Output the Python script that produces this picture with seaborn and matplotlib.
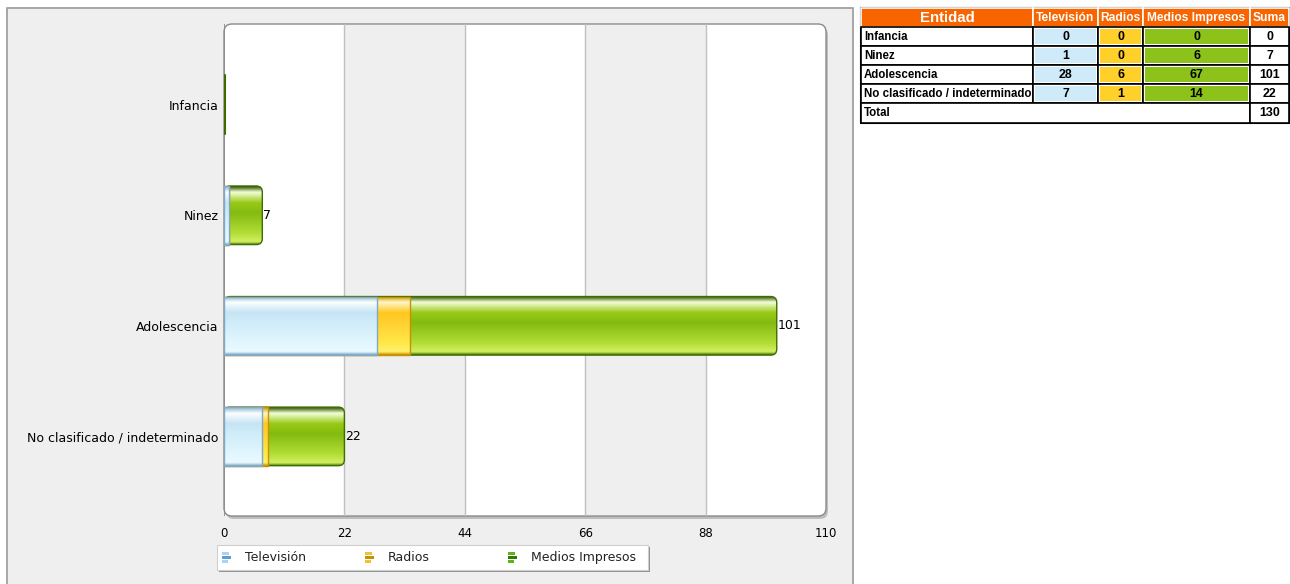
import numpy as np
import pandas as pd
import matplotlib
matplotlib.use("Agg")
import matplotlib.pyplot as plt
import seaborn as sns
from matplotlib.patches import Rectangle, FancyBboxPatch
from matplotlib.colors import LinearSegmentedColormap
from matplotlib.transforms import IdentityTransform
from matplotlib import font_manager

# ---------------- data ----------------
categories = ["Infancia", "Ninez", "Adolescencia", "No clasificado / indeterminado"]
series_names = ["Televisión", "Radios", "Medios Impresos"]
television = [0, 1, 28, 7]
radios = [0, 0, 6, 1]
medios = [0, 6, 67, 14]
x_ticks = [0, 22, 44, 66, 88, 110]
table_header = ["Entidad", "Televisión", "Radios", "Medios Impresos", "Suma"]

sumas = [t + r + m for t, r, m in zip(television, radios, medios)]
total = sum(sumas)

W, H = 1290, 584
sns.set_theme(style="white")
plt.rcParams['font.family'] = ['DejaVu Sans']
fig = plt.figure(figsize=(W / 100, H / 100), dpi=100)
fig.patch.set_facecolor("white")

installed = {f.name for f in font_manager.fontManager.ttflist}
if "Liberation Sans Narrow" in installed:
    tfont = ['Liberation Sans Narrow', 'DejaVu Sans']
    tscale = 1.0
else:
    tfont = ['Liberation Sans', 'DejaVu Sans']
    tscale = 0.9

def fx(px):
    return px / W

def fy(py):
    return 1 - py / H

# left panel background
panel = fig.add_axes([0, 0, 1, 1], zorder=-10)
panel.set_xlim(0, W); panel.set_ylim(H, 0); panel.axis("off")
panel.add_patch(Rectangle((7, 8), 846, 580, facecolor="#efefef", edgecolor="#9a9a9a", lw=1.2))
panel.add_patch(FancyBboxPatch((226, 27), 602, 492, boxstyle="round,pad=0,rounding_size=8",
                               facecolor="#9c9c9c", edgecolor="none", alpha=0.6))
panel.add_patch(FancyBboxPatch((224, 24), 602, 492, boxstyle="round,pad=0,rounding_size=8",
                               facecolor="white", edgecolor="#8a8a8a", lw=1.0))
x_px = lambda v: 224 + v * (602 / 110)
for i, (a, b) in enumerate(zip(x_ticks[:-1], x_ticks[1:])):
    if i % 2 == 1:
        panel.add_patch(Rectangle((x_px(a), 25), x_px(b) - x_px(a), 490,
                                  facecolor="#efefef", edgecolor="none"))

# ---------------- chart ----------------
ax = fig.add_axes([fx(224), fy(516), fx(826) - fx(224), fy(24) - fy(516)])
ax.patch.set_alpha(0)

df = pd.DataFrame({"cat": categories, "tv": television, "ra": radios, "me": medios})
df["c_tv"] = df["tv"]
df["c_ra"] = df["tv"] + df["ra"]
df["c_me"] = df["tv"] + df["ra"] + df["me"]

for t in x_ticks[1:-1]:
    ax.axvline(t, color="#c0c0c0", lw=1, zorder=0.5)
ax.axvline(0, color="#8a8a8a", lw=1.2, zorder=0.6)

bar_w = 0.53
layers = [
    ("c_me", "#8cc21a", "#3f6e00", ["#2f5500", "#f4ffd8", "#98c916", "#84bb10", "#b2dd36", "#d2f062", "#4c7a00"]),
    ("c_ra", "#ffd02a", "#c99000", ["#d09a00", "#fff6c8", "#ffc820", "#ffd030", "#ffe848", "#fff070", "#c99000"]),
    ("c_tv", "#d8f0fb", "#7fa9c4", ["#8bb5cf", "#fbfeff", "#c6e4f4", "#d0ecf9", "#e2f7ff", "#eafaff", "#7fa9c4"]),
]

def set_limits():
    ax.set_xlim(0, 110)
    ax.set_ylim(3.72, -0.73)

for k, (col, face, edge, grad) in enumerate(layers):
    n0 = len(ax.patches)
    sns.barplot(data=df, x=col, y="cat", orient="h", color=face, width=bar_w,
                saturation=1, edgecolor=edge, linewidth=1.0, ax=ax, zorder=2 + k, errorbar=None)
    set_limits()
    cmap = LinearSegmentedColormap.from_list(
        col, list(zip([0, 0.1, 0.28, 0.45, 0.8, 0.95, 1.0], grad)))
    for p in list(ax.patches[n0:]):
        x0, y0 = p.get_x(), p.get_y()
        w, h = p.get_width(), p.get_height()
        if w <= 0:
            continue
        clip = p
        if k == 0:
            (dx0, dy0), (dx1, dy1) = ax.transData.transform([(x0, y0 + h), (x0 + w, y0)])
            rb = FancyBboxPatch((dx0, dy0), dx1 - dx0, dy1 - dy0,
                                boxstyle="round,pad=0,rounding_size=6",
                                transform=IdentityTransform(), facecolor="none",
                                edgecolor=edge, lw=1.0, zorder=2.2)
            ax.add_artist(rb)
            p.set_visible(False)
            clip = rb
        grad_img = np.linspace(0, 1, 100).reshape(-1, 1)
        im = ax.imshow(grad_img, cmap=cmap, aspect="auto", extent=(x0, x0 + w, y0 + h, y0),
                       zorder=2 + k + 0.1, interpolation="bilinear")
        im.set_clip_path(clip)
        p.set_facecolor("none")
        p.set_zorder(2 + k + 0.2)
    set_limits()

for i, s in enumerate(sumas):
    if s == 0:
        ax.plot([0.15, 0.15], [i - bar_w / 2, i + bar_w / 2], color="#3d6b00", lw=1.5, zorder=6)

for i, s in enumerate(sumas):
    if s > 0:
        ax.text(s + 0.2, i, str(s), va="center", ha="left", fontsize=9, color="black", zorder=8)

set_limits()
ax.set_xticks(x_ticks)
ax.set_xticklabels([str(t) for t in x_ticks], fontsize=8.5, color="black")
ax.tick_params(axis="x", length=0, pad=8)
ax.tick_params(axis="y", length=0, pad=4, labelsize=9, labelcolor="black")
ax.set_xlabel(""); ax.set_ylabel("")
for s in ax.spines.values():
    s.set_visible(False)

# legend
panel.add_patch(Rectangle((219, 547), 431, 25, facecolor="#6a6a6a", edgecolor="none", alpha=0.7))
panel.add_patch(Rectangle((217, 545), 431, 25, facecolor="white", edgecolor="#cfcfcf", lw=0.8))
leg_cols = [("#5c9ed6", "#a9d3f2"), ("#c99000", "#f1c236"), ("#2f7d00", "#62b01e")]
leg_x = [222, 365, 508]
for (dark, light), lx, name in zip(leg_cols, leg_x, series_names):
    panel.add_patch(Rectangle((lx, 552), 7, 2.5, facecolor=light, edgecolor="none"))
    panel.add_patch(Rectangle((lx, 556), 9, 2.5, facecolor=dark, edgecolor="none"))
    panel.add_patch(Rectangle((lx, 560), 6, 2.5, facecolor=light, edgecolor="none"))
    panel.text(lx + 23, 557.5, name, fontsize=9, va="center", ha="left", color="#222222")

# ---------------- table ----------------
col_edges = [861, 1033, 1098, 1143, 1250, 1289]
row_edges = [8, 27, 46, 65, 84, 103, 123]
panel.add_patch(Rectangle((861, 8), 428, 115, facecolor="white", edgecolor="black", lw=1.5))
for j, name in enumerate(table_header):
    x0, x1 = col_edges[j], col_edges[j + 1]
    panel.add_patch(Rectangle((x0, row_edges[0]), x1 - x0, row_edges[1] - row_edges[0],
                              facecolor="#f86400", edgecolor="white", lw=1.2))
    panel.text((x0 + x1) / 2, (row_edges[0] + row_edges[1]) / 2 + 0.5, name,
               fontsize=(12 if j == 0 else 9.6) * tscale, color="white", weight="bold",
               ha="center", va="center", family=tfont)
cell_colors = ["#cfeaf9", "#ffcf2a", "#8cc21a"]
values_by_col = [television, radios, medios]
fs = 9.25 * tscale
for i, cat in enumerate(categories):
    y0, y1 = row_edges[i + 1], row_edges[i + 2]
    yc = (y0 + y1) / 2 + 0.5
    panel.add_patch(Rectangle((col_edges[0], y0), col_edges[1] - col_edges[0], y1 - y0,
                              facecolor="white", edgecolor="black", lw=1.2))
    panel.text(col_edges[0] + 3, yc, cat, fontsize=fs, weight="bold", ha="left", va="center",
               color="black", family=tfont)
    for j, vals in enumerate(values_by_col):
        x0, x1 = col_edges[j + 1], col_edges[j + 2]
        panel.add_patch(Rectangle((x0, y0), x1 - x0, y1 - y0, facecolor="white",
                                  edgecolor="black", lw=1.2))
        panel.add_patch(Rectangle((x0 + 2, y0 + 2), x1 - x0 - 4, y1 - y0 - 4,
                                  facecolor=cell_colors[j], edgecolor="none"))
        panel.text((x0 + x1) / 2, yc, str(vals[i]), fontsize=fs + 0.6, weight="bold",
                   ha="center", va="center", color="black", family=tfont)
    x0, x1 = col_edges[4], col_edges[5]
    panel.add_patch(Rectangle((x0, y0), x1 - x0, y1 - y0, facecolor="white",
                              edgecolor="black", lw=1.2))
    panel.text((x0 + x1) / 2, yc, str(sumas[i]), fontsize=fs + 0.6, weight="bold",
               ha="center", va="center", color="black", family=tfont)
y0, y1 = row_edges[5], row_edges[6]
panel.add_patch(Rectangle((col_edges[0], y0), col_edges[4] - col_edges[0], y1 - y0,
                          facecolor="white", edgecolor="black", lw=1.2))
panel.text(col_edges[0] + 3, (y0 + y1) / 2 + 0.5, "Total", fontsize=fs, weight="bold",
           ha="left", va="center", color="black", family=tfont)
panel.add_patch(Rectangle((col_edges[4], y0), col_edges[5] - col_edges[4], y1 - y0,
                          facecolor="white", edgecolor="black", lw=1.2))
panel.text((col_edges[4] + col_edges[5]) / 2, (y0 + y1) / 2 + 0.5, str(total), fontsize=fs + 0.6,
           weight="bold", ha="center", va="center", color="black", family=tfont)

fig.savefig("out.png", dpi=100)
